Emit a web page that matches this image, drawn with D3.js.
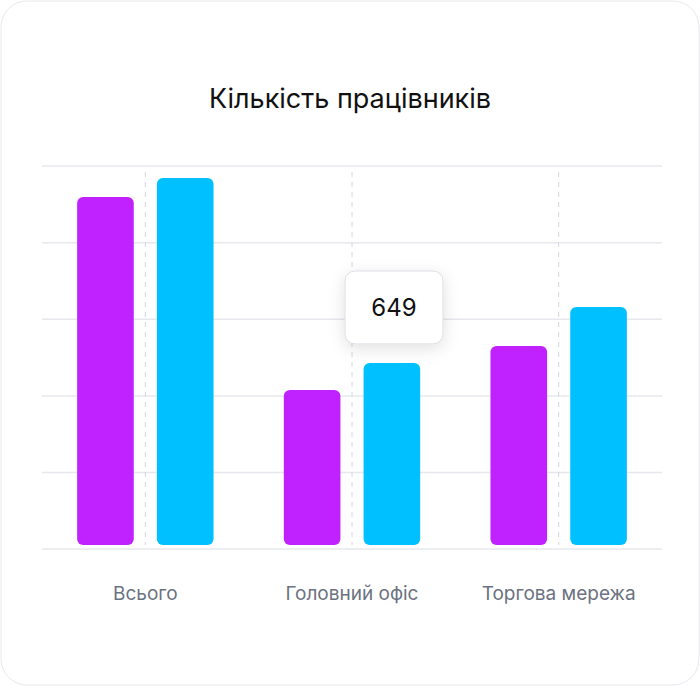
<!DOCTYPE html>
<html><head><meta charset="utf-8">
<script src="https://cdn.jsdelivr.net/npm/d3@7"></script>
<style>body{margin:0;background:#fff;font-family:Inter,"Noto Sans",sans-serif}</style>
</head><body><svg id="c" width="700" height="686"></svg>
<script>
const categories=["Всього","Головний офіс","Торгова мережа"];
const seriesA=[1228,555,708];
const seriesB=[1294,649,844];
const tickValues=[0,267,534,801,1068,1336];
const tooltipValue=649;

const svg=d3.select("#c");
const defs=svg.append("defs");
const f=defs.append("filter").attr("id","sh").attr("x","-50%").attr("y","-50%").attr("width","200%").attr("height","200%");
f.append("feDropShadow").attr("dx",0).attr("dy",4).attr("stdDeviation",8).attr("flood-color","#000").attr("flood-opacity",0.12);
svg.append("rect").attr("x",1).attr("y",1).attr("width",698).attr("height",684).attr("rx",26).attr("fill","#fff").attr("stroke","#e8e8ee");
svg.append("text").attr("x",350).attr("y",108).attr("text-anchor","middle").attr("font-size",27).attr("fill","#111").text("Кількість працівників");

const x0=d3.scaleBand().domain(categories).range([42,662]).paddingInner(0.34).paddingOuter(0.17);
const x1=d3.scaleBand().domain([0,1]).range([0,x0.bandwidth()]).paddingInner(0.29);
const y=d3.scaleLinear().domain([0,1336]).range([549,166]);

svg.append("g").selectAll("line").data(tickValues).join("line")
 .attr("x1",42).attr("x2",662).attr("y1",d=>y(d)).attr("y2",d=>y(d)).attr("stroke","#e6e8ee").attr("stroke-width",1.5);
svg.append("g").selectAll("line").data(categories).join("line")
 .attr("x1",d=>x0(d)+x0.bandwidth()/2).attr("x2",d=>x0(d)+x0.bandwidth()/2)
 .attr("y1",172).attr("y2",545).attr("stroke","#d4d6dc").attr("stroke-dasharray","5,5");

const colors=["#c022ff","#00c0ff"];
[seriesA,seriesB].forEach((s,si)=>{
 svg.append("g").selectAll("rect").data(s).join("rect")
  .attr("x",(d,i)=>x0(categories[i])+x1(si)).attr("width",x1.bandwidth())
  .attr("y",d=>y(d)).attr("height",d=>y(0)-4-y(d)).attr("rx",6).attr("fill",colors[si]);
});

svg.append("g").selectAll("text").data(categories).join("text")
 .attr("x",d=>x0(d)+x0.bandwidth()/2).attr("y",600).attr("text-anchor","middle")
 .attr("font-size",19).attr("fill","#6b7280").text(d=>d);

const tx=x0(categories[1])+x0.bandwidth()/2+42, tyTop=y(tooltipValue)-92;
const tg=svg.append("g");
tg.append("rect").attr("x",tx-49).attr("y",tyTop).attr("width",98).attr("height",73).attr("rx",10)
 .attr("fill","#fff").attr("stroke","#dcdde2").attr("filter","url(#sh)");
tg.append("text").attr("x",tx).attr("y",tyTop+45).attr("text-anchor","middle").attr("font-size",24).attr("fill","#111").text(tooltipValue);
</script></body></html>
